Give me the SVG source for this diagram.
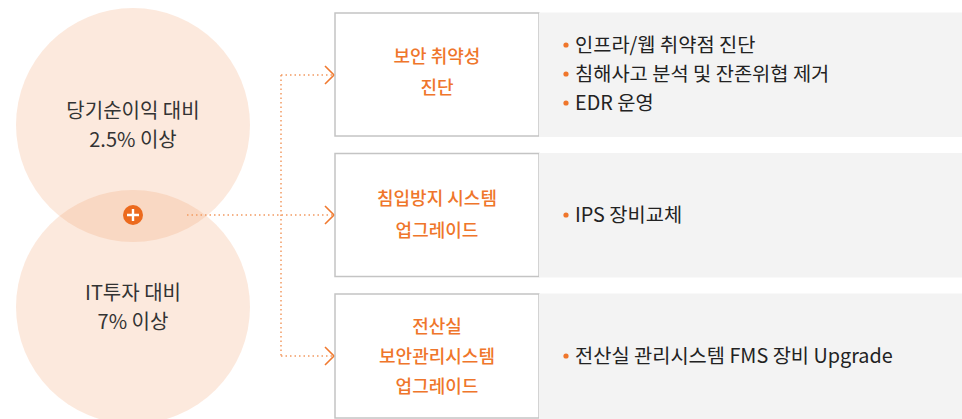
<svg xmlns="http://www.w3.org/2000/svg" width="962" height="419" viewBox="0 0 962 419">
<defs>
<style>
.circ{fill:#f29f6b;fill-opacity:0.23}
.ct{font-family:"Noto Sans CJK KR","Noto Sans",sans-serif;font-size:20px;fill:#333;text-anchor:middle}
.box{fill:#fff;stroke:#c4c4c4;stroke-width:1.5}
.panel{fill:#f3f3f3}
.bt{font-family:"Noto Sans CJK KR","Noto Sans",sans-serif;font-size:18px;font-weight:500;fill:#ef762b;text-anchor:middle}
.it{font-family:"Noto Sans CJK KR","Noto Sans",sans-serif;font-size:19.8px;fill:#222}
.dot{fill:#ef762b}
.dl{fill:none;stroke:#f29a62;stroke-width:1.5;stroke-dasharray:1.5 3}
.ah{fill:none;stroke:#f07a30;stroke-width:1.6}
</style>
</defs>
<g id="circle-profit">
<circle class="circ" cx="133" cy="125" r="117"/>
<text class="ct" x="133" y="118">당기순이익 대비</text>
<text class="ct" x="133" y="147">2.5% 이상</text>
</g>
<g id="circle-it">
<circle class="circ" cx="133" cy="307" r="117"/>
<text class="ct" x="133" y="300">IT투자 대비</text>
<text class="ct" x="133" y="329">7% 이상</text>
</g>
<g id="plus">
<circle cx="133" cy="215" r="10" fill="#ec6a1e"/>
<path d="M127 215H139M133 209V221" stroke="#fff" stroke-width="2.4" fill="none"/>
</g>
<g id="connectors">
<path class="dl" d="M187 215H333"/>
<path class="dl" d="M281 75V356"/>
<path class="dl" d="M281 75H333"/>
<path class="dl" d="M281 356H333"/>
<path class="ah" d="M325 66L334 75L325 84"/>
<path class="ah" d="M325 206L334 215L325 224"/>
<path class="ah" d="M325 347L334 356L325 365"/>
</g>
<g id="node-1">
<rect class="box" x="335" y="13" width="204" height="123"/>
<rect class="panel" x="539" y="12.5" width="423" height="124.5"/>
<text class="bt" x="437" y="63">보안 취약성</text>
<text class="bt" x="437" y="94">진단</text>
<circle class="dot" cx="566" cy="45" r="2.6"/>
<text class="it" x="575" y="51.5">인프라/웹 취약점 진단</text>
<circle class="dot" cx="566" cy="74" r="2.6"/>
<text class="it" x="575" y="80.5">침해사고 분석 및 잔존위협 제거</text>
<circle class="dot" cx="566" cy="103" r="2.6"/>
<text class="it" x="575" y="110">EDR 운영</text>
</g>
<g id="node-2">
<rect class="box" x="335" y="153.5" width="204" height="123"/>
<rect class="panel" x="539" y="153" width="423" height="124.5"/>
<text class="bt" x="437" y="205">침입방지 시스템</text>
<text class="bt" x="437" y="237">업그레이드</text>
<circle class="dot" cx="566" cy="215" r="2.6"/>
<text class="it" x="575" y="222">IPS 장비교체</text>
</g>
<g id="node-3">
<rect class="box" x="335" y="294" width="204" height="124"/>
<rect class="panel" x="539" y="293.5" width="423" height="125.5"/>
<text class="bt" x="437" y="333">전산실</text>
<text class="bt" x="437" y="363">보안관리시스템</text>
<text class="bt" x="437" y="393">업그레이드</text>
<circle class="dot" cx="566" cy="356" r="2.6"/>
<text class="it" x="575" y="363">전산실 관리시스템 FMS 장비 Upgrade</text>
</g>
</svg>
